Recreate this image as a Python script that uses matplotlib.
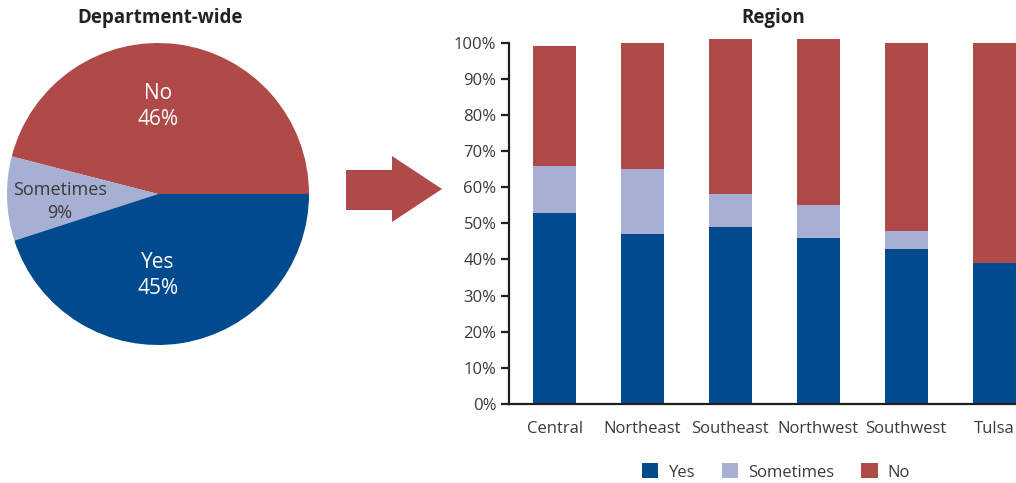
import numpy as np
import matplotlib
matplotlib.use('agg')
import matplotlib.pyplot as plt
from matplotlib.patches import Polygon

plt.rcParams['font.family'] = ['Open Sans', 'DejaVu Sans']

# pie data
pie_labels = ['No', 'Sometimes', 'Yes']
pie_values = [46, 9, 45]

# bar data
regions = ['Central', 'Northeast', 'Southeast', 'Northwest', 'Southwest', 'Tulsa']
yes_vals = [53, 47, 49, 46, 43, 39]
sometimes_vals = [13, 18, 9, 9, 5, 0]
no_vals = [33, 35, 43, 46, 52, 61]

c_yes = '#004A8D'
c_some = '#A5B0D2'
c_no = '#B04A48'
text_c = '#3a3a3a'
axis_c = '#231F20'

W, H = 1016, 483
fig = plt.figure(figsize=(W / 100, H / 100), dpi=100)

# pie
pax = fig.add_axes([7 / W, (H - 345) / H, 302 / W, 302 / H])
pax.pie(pie_values, colors=[c_no, c_some, c_yes], startangle=0, counterclock=True,
        wedgeprops=dict(linewidth=0))
pax.set_xlim(-1, 1)
pax.set_ylim(-1, 1)
pax.set_aspect('equal')
pax.text(0, 0.58, f"{pie_labels[0]}\n{pie_values[0]}%", ha='center', va='center',
         color='white', fontsize=15, linespacing=1.35)
pax.text(-0.65, -0.05, f"{pie_labels[1]}\n{pie_values[1]}%", ha='center', va='center',
         color=text_c, fontsize=13, linespacing=1.3)
pax.text(0, -0.54, f"{pie_labels[2]}\n{pie_values[2]}%", ha='center', va='center',
         color='white', fontsize=15, linespacing=1.35)
fig.text(160 / W, 1 - 18 / H, 'Department-wide', ha='center', va='center',
         fontsize=13.5, fontweight='bold', color='#222222')

# arrow
arrow_pts = np.array([[346, 170], [392, 170], [392, 156], [442, 189],
                      [392, 222], [392, 210], [346, 210]], dtype=float)
arrow_pts[:, 0] /= W
arrow_pts[:, 1] = 1 - arrow_pts[:, 1] / H
fig.patches.append(Polygon(arrow_pts, closed=True, facecolor=c_no, edgecolor='none',
                           transform=fig.transFigure, figure=fig))

# stacked bars
bax = fig.add_axes([509 / W, 79 / H, (W - 509) / W, 361.3 / H])
x = np.arange(len(regions))
yes_arr = np.array(yes_vals)
some_arr = np.array(sometimes_vals)
no_arr = np.array(no_vals)
b1 = bax.bar(x, yes_arr, width=0.49, color=c_yes, label='Yes', clip_on=False)
b2 = bax.bar(x, some_arr, width=0.49, bottom=yes_arr, color=c_some, label='Sometimes', clip_on=False)
b3 = bax.bar(x, no_arr, width=0.49, bottom=yes_arr + some_arr, color=c_no, label='No', clip_on=False)

bax.set_xlim(-0.52, 5.25)
bax.set_ylim(0, 100)
bax.set_yticks(np.arange(0, 101, 10))
bax.set_yticklabels([f"{v}%" for v in range(0, 101, 10)])
bax.set_xticks(x)
bax.set_xticklabels(regions)
for s in ['top', 'right']:
    bax.spines[s].set_visible(False)
for s in ['left', 'bottom']:
    bax.spines[s].set_color(axis_c)
    bax.spines[s].set_linewidth(1.6)
bax.tick_params(axis='y', length=6, width=1.6, color=axis_c, labelcolor=text_c,
                labelsize=12, pad=3)
bax.tick_params(axis='x', length=0, labelcolor=text_c, labelsize=12, pad=12)

fig.text(773 / W, 1 - 18 / H, 'Region', ha='center', va='center',
         fontsize=13.5, fontweight='bold', color='#222222')

fig.legend(handles=[b1, b2, b3], labels=['Yes', 'Sometimes', 'No'], loc='center',
           bbox_to_anchor=(776 / W, 1 - 472 / H), ncol=3, frameon=False,
           handlelength=1.0, handleheight=1.0, handletextpad=0.6, columnspacing=1.6,
           fontsize=12, labelcolor=text_c)

fig.savefig('out.png', dpi=100)
